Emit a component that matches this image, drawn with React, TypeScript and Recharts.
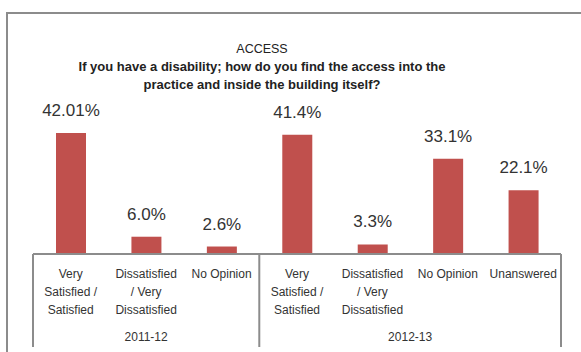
import { BarChart, Bar, XAxis, YAxis, LabelList } from "recharts";

const categoryLines = [
  ["Very", "Satisfied /", "Satisfied"],
  ["Dissatisfied", "/ Very", "Dissatisfied"],
  ["No Opinion"],
  ["Very", "Satisfied /", "Satisfied"],
  ["Dissatisfied", "/ Very", "Dissatisfied"],
  ["No Opinion"],
  ["Unanswered"],
];
const years = ["2011-12", "2011-12", "2011-12", "2012-13", "2012-13", "2012-13", "2012-13"];
const values = [42.01, 6.0, 2.6, 41.4, 3.3, 33.1, 22.1];
const valueLabels = ["42.01%", "6.0%", "2.6%", "41.4%", "3.3%", "33.1%", "22.1%"];

const data = values.map((v, i) => ({
  key: String(i),
  value: v,
  label: valueLabels[i],
}));

const FONT = "'Liberation Sans', Arial, sans-serif";
const GRID = "#8c8c8c";

function CategoryTick(props: any) {
  const { x, y, payload } = props;
  const i = payload.index;
  const half = payload.offset || 0;
  const lines = categoryLines[i];
  const firstOfGroup = i === 0 || years[i - 1] !== years[i];
  const last = i === years.length - 1;
  let groupLabel = null;
  if (firstOfGroup) {
    const count = years.filter((g) => g === years[i]).length;
    const cx = x - half + count * half;
    groupLabel = (
      <text x={cx} y={y + 87} textAnchor="middle" fontSize={12} fill="#333" fontFamily={FONT}>
        {years[i]}
      </text>
    );
  }
  return (
    <g>
      {firstOfGroup && (
        <line x1={x - half} x2={x - half} y1={y} y2={y + 93} stroke={GRID} strokeWidth={2} />
      )}
      {last && (
        <line x1={x + half} x2={x + half} y1={y} y2={y + 93} stroke={GRID} strokeWidth={2} />
      )}
      {lines.map((t: string, k: number) => (
        <text
          key={k}
          x={x}
          y={y + 24 + k * 18}
          textAnchor="middle"
          fontSize={12}
          fill="#333"
          fontFamily={FONT}
        >
          {t}
        </text>
      ))}
      {groupLabel}
    </g>
  );
}

function ValueLabel(props: any) {
  const { x, y, width, value } = props;
  return (
    <text
      x={x + width / 2}
      y={y - 17}
      textAnchor="middle"
      fontSize={17}
      fill="#333"
      fontFamily={FONT}
    >
      {value}
    </text>
  );
}

export default function App() {
  return (
    <div
      style={{
        position: "absolute",
        left: 0,
        top: 0,
        width: 581,
        height: 352,
        background: "#fff",
        overflow: "hidden",
        fontFamily: FONT,
      }}
    >
      <div
        style={{
          position: "absolute",
          left: 6,
          top: 12,
          width: 600,
          height: 400,
          borderTop: `2px solid ${GRID}`,
          borderLeft: `2px solid ${GRID}`,
        }}
      />
      <div
        style={{
          position: "absolute",
          left: 0,
          width: 524,
          top: 40,
          textAlign: "center",
          color: "#222",
          lineHeight: "18px",
        }}
      >
        <div style={{ fontSize: 12.5 }}>ACCESS</div>
        <div style={{ fontSize: 13, fontWeight: "bold" }}>
          If you have a disability; how do you find the access into the
        </div>
        <div style={{ fontSize: 13, fontWeight: "bold" }}>
          practice and inside the building itself?
        </div>
      </div>
      <div style={{ position: "absolute", left: 0, top: 0 }}>
        <BarChart
          width={581}
          height={352}
          data={data}
          margin={{ top: 110, right: 20, bottom: 0, left: 33 }}
          barCategoryGap={0}
        >
          <YAxis hide domain={[0, 50]} />
          <XAxis
            dataKey="key"
            height={98}
            interval={0}
            tickLine={false}
            tickSize={0}
            tickMargin={0}
            axisLine={{ stroke: GRID, strokeWidth: 2 }}
            tick={<CategoryTick />}
          />
          <Bar dataKey="value" fill="#C0504D" barSize={30} isAnimationActive={false}>
            <LabelList dataKey="label" content={<ValueLabel />} />
          </Bar>
        </BarChart>
      </div>
    </div>
  );
}
